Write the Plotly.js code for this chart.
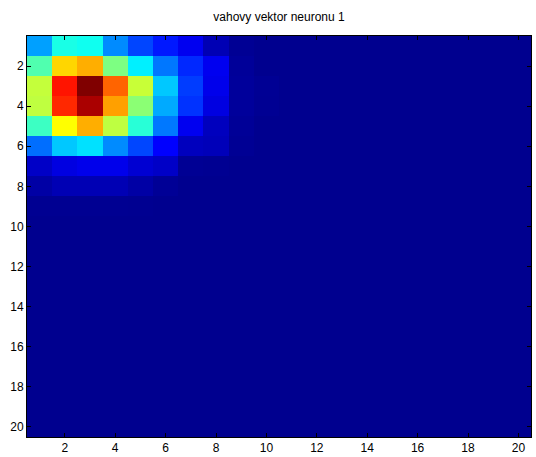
<!DOCTYPE html>
<html>
<head>
<meta charset="utf-8">
<script src="https://cdn.plot.ly/plotly-3.0.1.min.js"></script>
<style>html,body{margin:0;padding:0;background:#fff;}#chart{width:536px;height:457px;}</style>
</head>
<body>
<div id="chart"></div>
<script>
// Columns and rows of the 20x20 weight image
const cols = [1,2,3,4,5,6,7,8,9,10,11,12,13,14,15,16,17,18,19,20];
const rows = [1,2,3,4,5,6,7,8,9,10,11,12,13,14,15,16,17,18,19,20];
const tickVals = [2,4,6,8,10,12,14,16,18,20];
const tickText = ["2","4","6","8","10","12","14","16","18","20"];

// Row values, columns 1..20
const row1  = [0.27, 0.39, 0.38, 0.25, 0.18, 0.135, 0.096, 0.037, 0.005, 0, 0,0,0,0,0,0,0,0,0,0];
const row2  = [0.445, 0.66, 0.70, 0.49, 0.35, 0.23, 0.151, 0.096, 0.01, 0, 0,0,0,0,0,0,0,0,0,0];
const row3  = [0.56, 0.853, 1.0, 0.773, 0.564, 0.31, 0.171, 0.091, 0.012, 0.005, 0,0,0,0,0,0,0,0,0,0];
const row4  = [0.555, 0.833, 0.958, 0.714, 0.504, 0.28, 0.161, 0.081, 0.012, 0.004, 0,0,0,0,0,0,0,0,0,0];
const row5  = [0.425, 0.619, 0.70, 0.554, 0.405, 0.231, 0.096, 0.047, 0.008, 0, 0,0,0,0,0,0,0,0,0,0];
const row6  = [0.221, 0.31, 0.335, 0.25, 0.181, 0.111, 0.047, 0.042, 0.005, 0, 0,0,0,0,0,0,0,0,0,0];
const row7  = [0.056, 0.081, 0.091, 0.091, 0.066, 0.056, 0.005, 0.003, 0, 0, 0,0,0,0,0,0,0,0,0,0];
const row8  = [0.022, 0.037, 0.037, 0.037, 0.022, 0.007, 0, 0, 0, 0, 0,0,0,0,0,0,0,0,0,0];
const row9  = [0.003, 0.003, 0.003, 0.003, 0.002, 0, 0, 0, 0, 0, 0,0,0,0,0,0,0,0,0,0];
const row10 = [0,0,0,0,0,0,0,0,0,0,0,0,0,0,0,0,0,0,0,0];
const row11 = [0,0,0,0,0,0,0,0,0,0,0,0,0,0,0,0,0,0,0,0];
const row12 = [0,0,0,0,0,0,0,0,0,0,0,0,0,0,0,0,0,0,0,0];
const row13 = [0,0,0,0,0,0,0,0,0,0,0,0,0,0,0,0,0,0,0,0];
const row14 = [0,0,0,0,0,0,0,0,0,0,0,0,0,0,0,0,0,0,0,0];
const row15 = [0,0,0,0,0,0,0,0,0,0,0,0,0,0,0,0,0,0,0,0];
const row16 = [0,0,0,0,0,0,0,0,0,0,0,0,0,0,0,0,0,0,0,0];
const row17 = [0,0,0,0,0,0,0,0,0,0,0,0,0,0,0,0,0,0,0,0];
const row18 = [0,0,0,0,0,0,0,0,0,0,0,0,0,0,0,0,0,0,0,0];
const row19 = [0,0,0,0,0,0,0,0,0,0,0,0,0,0,0,0,0,0,0,0];
const row20 = [0,0,0,0,0,0,0,0,0,0,0,0,0,0,0,0,0,0,0,0];

const z = [row1,row2,row3,row4,row5,row6,row7,row8,row9,row10,
           row11,row12,row13,row14,row15,row16,row17,row18,row19,row20];

// MATLAB jet(64)
const jet = [
  [0, 'rgb(0,0,143)'],
  [7/63, 'rgb(0,0,255)'],
  [23/63, 'rgb(0,255,255)'],
  [39/63, 'rgb(255,255,0)'],
  [55/63, 'rgb(255,0,0)'],
  [1, 'rgb(128,0,0)']
];

const fontFam = '"Liberation Sans", Arial, sans-serif';
const axisCommon = {
  tickmode: 'array', tickvals: tickVals, ticktext: tickText,
  ticks: 'inside', ticklen: 4, tickwidth: 1, tickcolor: '#000',
  showline: true, linecolor: '#000', linewidth: 1, mirror: 'ticks',
  showgrid: false, zeroline: false,
  tickfont: {family: fontFam, size: 12, color: '#000'},
  fixedrange: true
};

const data = [{
  type: 'heatmap', x: cols, y: rows, z: z,
  colorscale: jet, zmin: 0, zmax: 1, showscale: false, zsmooth: false,
  hoverinfo: 'skip'
}];

const layout = {
  width: 536, height: 457,
  margin: {l: 27, r: 5, t: 36, b: 20, pad: 0},
  paper_bgcolor: '#fff', plot_bgcolor: '#fff',
  title: {text: 'vahovy vektor neuronu 1', x: 0.5, xref: 'paper', xanchor: 'center',
          y: 1 - 17/457, yref: 'container', yanchor: 'middle',
          font: {family: fontFam, size: 12, color: '#000'}},
  xaxis: Object.assign({}, axisCommon, {range: [0.5, 20.5]}),
  yaxis: Object.assign({}, axisCommon, {range: [20.5, 0.5]}),
  showlegend: false
};

Plotly.newPlot('chart', data, layout, {displayModeBar: false, staticPlot: true});
</script>
</body>
</html>
